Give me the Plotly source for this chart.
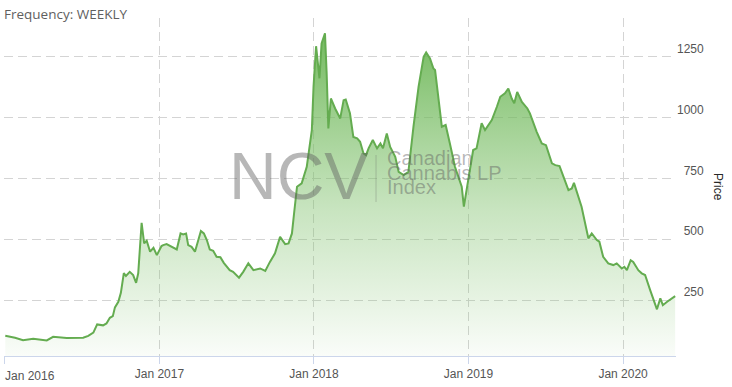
import plotly.graph_objects as go

# ---- data (weekly NCV index) ----
dates = [
    "2016-01-03", "2016-01-26", "2016-02-14", "2016-03-09", "2016-04-10", "2016-04-25",
    "2016-05-27", "2016-07-05", "2016-07-17", "2016-07-29", "2016-08-07", "2016-08-21",
    "2016-08-29", "2016-09-06", "2016-09-13", "2016-09-18", "2016-09-26", "2016-10-02",
    "2016-10-09", "2016-10-14", "2016-10-23", "2016-10-31", "2016-11-07", "2016-11-12",
    "2016-11-20", "2016-11-26", "2016-12-02", "2016-12-10", "2016-12-18", "2016-12-26",
    "2017-01-06", "2017-01-10", "2017-01-18", "2017-01-30", "2017-02-03", "2017-02-11",
    "2017-02-20", "2017-02-26", "2017-03-05", "2017-03-10", "2017-03-18", "2017-03-26",
    "2017-04-09", "2017-04-16", "2017-04-23", "2017-04-30", "2017-05-08", "2017-05-16",
    "2017-05-25", "2017-06-02", "2017-06-16", "2017-06-24", "2017-07-08", "2017-07-18",
    "2017-07-30", "2017-08-11", "2017-08-27", "2017-09-08", "2017-09-19", "2017-10-01",
    "2017-10-13", "2017-10-25", "2017-11-02", "2017-11-10", "2017-11-15", "2017-11-22",
    "2017-12-03", "2017-12-15", "2017-12-27", "2017-12-31", "2018-01-06", "2018-01-14",
    "2018-01-19", "2018-01-27", "2018-01-31", "2018-02-04", "2018-02-10", "2018-02-20",
    "2018-03-04", "2018-03-12", "2018-03-17", "2018-03-27", "2018-04-04", "2018-04-13",
    "2018-04-20", "2018-04-28", "2018-05-04", "2018-05-10", "2018-05-20", "2018-05-30",
    "2018-06-07", "2018-06-13", "2018-06-22", "2018-06-30", "2018-07-12", "2018-07-20",
    "2018-08-01", "2018-08-12", "2018-08-24", "2018-09-05", "2018-09-17", "2018-09-23",
    "2018-10-02", "2018-10-10", "2018-10-14", "2018-10-22", "2018-10-30", "2018-11-08",
    "2018-11-11", "2018-11-18", "2018-11-30", "2018-12-12", "2018-12-16", "2018-12-21",
    "2019-01-01", "2019-01-12", "2019-01-20", "2019-02-01", "2019-02-09", "2019-02-25",
    "2019-03-09", "2019-03-17", "2019-03-28", "2019-04-05", "2019-04-13", "2019-04-19",
    "2019-04-26", "2019-05-07", "2019-05-20", "2019-05-26", "2019-06-11", "2019-06-23",
    "2019-07-03", "2019-07-17", "2019-07-25", "2019-08-04", "2019-08-25", "2019-09-02",
    "2019-09-07", "2019-09-25", "2019-10-11", "2019-10-19", "2019-10-31", "2019-11-06",
    "2019-11-15", "2019-11-27", "2019-12-09", "2019-12-17", "2019-12-29", "2020-01-04",
    "2020-01-10", "2020-01-19", "2020-01-25", "2020-02-06", "2020-02-14", "2020-02-22",
    "2020-03-05", "2020-03-13", "2020-03-21", "2020-03-29", "2020-04-04", "2020-04-14",
    "2020-05-03",
]
prices = [
    103, 95, 85, 91, 84, 99,
    94, 95, 103, 116, 150, 146,
    154, 177, 184, 220, 243, 280,
    361, 349, 366, 353, 321, 360,
    568, 483, 494, 449, 465, 435,
    472, 476, 480, 469, 463, 458,
    524, 520, 524, 476, 469, 449,
    534, 524, 497, 458, 453, 428,
    426, 403, 373, 366, 342, 366,
    401, 373, 380, 370, 407, 442,
    510, 480, 483, 524, 606, 716,
    730, 798, 949, 1127, 1294, 1162,
    1305, 1347, 1182, 956, 1079, 1038,
    997, 1072, 1075, 1018, 921, 915,
    901, 853, 846, 874, 908, 874,
    894, 874, 935, 880, 839, 777,
    764, 777, 963, 1127, 1250, 1268,
    1244, 1203, 1196, 1086, 963, 970,
    949, 894, 798, 730, 716, 634,
    743, 867, 874, 977, 949, 990,
    1045, 1086, 1100, 1120, 1079, 1059,
    1106, 1065, 1038, 1018, 942, 894,
    887, 812, 805, 801, 702, 709,
    732, 634, 504, 524, 497, 490,
    428, 401, 394, 401, 380, 387,
    373, 414, 407, 373, 360, 353,
    291, 250, 212, 257, 229, 243,
    266,
]

x_tick_vals = ["2016-01-01", "2017-01-01", "2018-01-01", "2019-01-01", "2020-01-01"]
x_tick_text = ["Jan 2016", "Jan 2017", "Jan 2018", "Jan 2019", "Jan 2020"]
y_tick_vals = [250, 500, 750, 1000, 1250]
x_range = ["2015-12-31", "2020-05-05"]
y_range = [20, 1410]

FIG = "\u2007"   # figure space: right-aligns the 3-digit price labels
y_tick_text = [str(v).rjust(4, FIG) for v in y_tick_vals]
# first date label is drawn left-aligned at its tick (as in the reference), the rest centred
x_tick_labels = [""] + x_tick_text[1:]

grid_col = "rgb(212,212,212)"
axis_col = "rgb(204,214,235)"
label_col = "rgb(85,85,85)"
font_fam = "Liberation Sans, Arial, sans-serif"

fig = go.Figure()
fig.add_trace(go.Scatter(
    x=dates, y=prices, mode="lines",
    line=dict(color="rgb(100,172,80)", width=2),
    fill="tozeroy",
    fillgradient=dict(
        type="vertical",
        start=20, stop=1350,
        colorscale=[
            [0.0, "rgba(125,192,105,0.04)"],
            [0.45, "rgba(125,192,105,0.42)"],
            [1.0, "rgba(108,182,86,0.95)"],
        ],
    ),
    showlegend=False,
    hoverinfo="x+y",
))

fig.add_annotation(xref="x", yref="paper", x=x_tick_vals[0], y=-0.0592,
                   text=x_tick_text[0], showarrow=False,
                   xanchor="left", yanchor="middle", borderpad=0,
                   font=dict(family=font_fam, size=12, color=label_col))

# watermark
wm_col = "rgba(95,95,95,0.45)"
fig.add_annotation(xref="paper", yref="paper", x=0.4382, y=0.5325,
                   text="NCV", showarrow=False, xanchor="center", yanchor="middle",
                   font=dict(family=font_fam, size=66, color=wm_col))
for txt, yy in [("Canadian", 0.5846), ("Cannabis LP", 0.5414), ("Index", 0.5009)]:
    fig.add_annotation(xref="paper", yref="paper", x=0.5685, y=yy,
                       text=txt, showarrow=False, xanchor="left", yanchor="middle",
                       borderpad=0,
                       font=dict(family=font_fam, size=20, color=wm_col))
fig.add_shape(type="line", xref="paper", yref="paper",
              x0=0.5536, x1=0.5536, y0=0.4556, y1=0.5947,
              line=dict(color="rgba(95,95,95,0.3)", width=1))

# header and axis title
fig.add_annotation(xref="paper", yref="paper", x=-0.003, y=1.012,
                   text="Frequency: WEEKLY", showarrow=False,
                   xanchor="left", yanchor="middle",
                   font=dict(family="Open Sans, sans-serif", size=13.5, color="rgb(95,95,95)"))
fig.add_annotation(xref="paper", yref="paper", x=1.0625, y=0.5,
                   text="Price", showarrow=False, textangle=90,
                   xanchor="center", yanchor="middle",
                   font=dict(family=font_fam, size=12, color="rgb(40,40,40)"))

fig.update_layout(
    width=732, height=387,
    margin=dict(l=4, r=56, t=18, b=31, autoexpand=False),
    paper_bgcolor="white", plot_bgcolor="white",
    showlegend=False,
    xaxis=dict(
        type="date", range=x_range, automargin=False,
        tickvals=x_tick_vals, ticktext=x_tick_labels,
        showgrid=True, gridcolor=grid_col, griddash="9px,5px", gridwidth=1,
        showline=True, linecolor=axis_col, linewidth=1,
        ticks="outside", ticklen=7, tickcolor=axis_col,
        tickfont=dict(family=font_fam, size=12, color=label_col),
        zeroline=False, fixedrange=True,
    ),
    yaxis=dict(
        side="right", range=y_range, automargin=False,
        tickvals=y_tick_vals, ticktext=y_tick_text,
        showgrid=True, gridcolor=grid_col, griddash="9px,5px", gridwidth=1,
        showline=False, zeroline=False, ticks="",
        ticklabelshift=-8,
        tickfont=dict(family=font_fam, size=12, color=label_col),
        fixedrange=True,
    ),
)

fig.write_html("out.html")
